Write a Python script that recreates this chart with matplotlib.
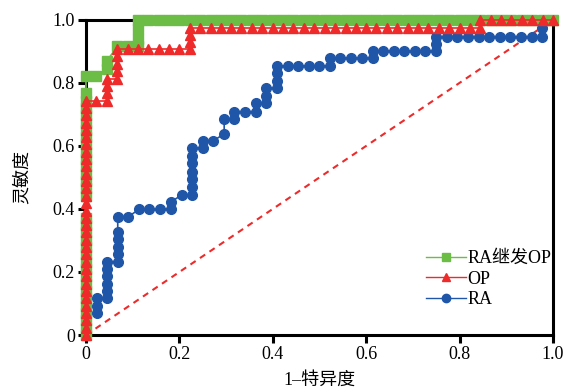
import matplotlib
matplotlib.use("Agg")
import matplotlib.pyplot as plt

plt.rcParams['font.family'] = ['Liberation Serif', 'Noto Sans CJK SC', 'DejaVu Sans']

# RA继发OP (green squares)
ra_op_x = ([0] * 33 +
           [0.022, 0.044, 0.044, 0.067, 0.089, 0.111, 0.111, 0.111, 0.111,
            0.133, 0.156, 0.178, 0.2, 0.222, 0.244, 0.267, 0.289, 0.311, 0.333,
            0.356, 0.378, 0.4, 0.422, 0.444, 0.467, 0.489, 0.511, 0.533, 0.556,
            0.578, 0.6, 0.622, 0.644, 0.667, 0.689, 0.711, 0.733, 0.756, 0.778,
            0.8, 0.822, 0.844, 0.867, 0.889, 0.911, 0.933, 0.956, 0.978, 1.0])
ra_op_y = ([0, 0.023, 0.047, 0.07, 0.093, 0.116, 0.14, 0.163, 0.186, 0.209,
            0.233, 0.256, 0.279, 0.302, 0.326, 0.349, 0.372,
            0.442, 0.465, 0.488, 0.512, 0.535, 0.558, 0.581, 0.605, 0.628,
            0.651, 0.674, 0.698, 0.721, 0.744, 0.767, 0.821,
            0.821, 0.845, 0.868, 0.916, 0.916, 0.916, 0.94, 0.97, 1.0] +
           [1.0] * 40)

# OP (red triangles)
op_x = [0] * 33 + [0.022, 0.044, 0.044, 0.044, 0.044,
                   0.067, 0.067, 0.067, 0.067, 0.067,
                   0.089, 0.111, 0.133, 0.156, 0.178, 0.2, 0.222,
                   0.222, 0.222, 0.222,
                   0.244, 0.267, 0.289, 0.311, 0.333, 0.356, 0.378, 0.4, 0.422,
                   0.444, 0.467, 0.489, 0.511, 0.533, 0.556, 0.578, 0.6, 0.622,
                   0.644, 0.667, 0.689, 0.711, 0.733, 0.756, 0.778, 0.8, 0.822, 0.844,
                   0.844, 0.867, 0.889, 0.911, 0.933, 0.956, 0.978, 1.0]
op_y = [0, 0.023, 0.047, 0.07, 0.093, 0.116, 0.14, 0.163, 0.186, 0.209,
        0.233, 0.256, 0.279, 0.302, 0.326, 0.349, 0.372, 0.395, 0.419, 0.442,
        0.465, 0.488, 0.512, 0.535, 0.558, 0.581, 0.605, 0.628, 0.651, 0.674,
        0.698, 0.721, 0.744,
        0.744, 0.744, 0.767, 0.791, 0.814,
        0.814, 0.837, 0.86, 0.884, 0.907,
        0.907, 0.907, 0.907, 0.907, 0.907, 0.907, 0.907,
        0.93, 0.953, 0.975,
        0.975, 0.975, 0.975, 0.975, 0.975, 0.975, 0.975, 0.975, 0.975,
        0.975, 0.975, 0.975, 0.975, 0.975, 0.975, 0.975, 0.975, 0.975,
        0.975, 0.975, 0.975, 0.975, 0.975, 0.975, 0.975, 0.975, 0.975, 0.975,
        1.0, 1.0, 1.0, 1.0, 1.0, 1.0, 1.0, 1.0]

# RA (blue circles)
ra_x = [0.023, 0.023, 0.023,
        0.046, 0.046, 0.046, 0.046, 0.046, 0.046,
        0.068, 0.068, 0.068, 0.068, 0.068, 0.068,
        0.091, 0.114, 0.136, 0.159, 0.182, 0.182, 0.205,
        0.227, 0.227, 0.227, 0.227, 0.227, 0.227, 0.227,
        0.25, 0.25, 0.273, 0.296, 0.296, 0.318, 0.318, 0.341, 0.364, 0.364,
        0.386, 0.386, 0.386, 0.409, 0.409, 0.409, 0.409,
        0.432, 0.455, 0.477, 0.5, 0.523, 0.523,
        0.545, 0.568, 0.591, 0.614, 0.614,
        0.636, 0.659, 0.682, 0.705, 0.727, 0.75, 0.75, 0.75,
        0.773, 0.795, 0.818, 0.841, 0.864, 0.886, 0.909, 0.932, 0.955, 0.977, 0.977]
ra_y = [0.069, 0.093, 0.116,
        0.116, 0.14, 0.163, 0.186, 0.209, 0.233,
        0.233, 0.256, 0.28, 0.305, 0.328, 0.376,
        0.376, 0.399, 0.399, 0.399, 0.399, 0.423, 0.444,
        0.444, 0.47, 0.495, 0.518, 0.545, 0.568, 0.593,
        0.593, 0.617, 0.617, 0.638, 0.686, 0.686, 0.709, 0.709, 0.709, 0.735,
        0.735, 0.759, 0.783, 0.783, 0.807, 0.83, 0.854,
        0.854, 0.854, 0.854, 0.854, 0.854, 0.878,
        0.878, 0.878, 0.878, 0.878, 0.9,
        0.9, 0.9, 0.9, 0.9, 0.9, 0.9, 0.924, 0.947,
        0.947, 0.947, 0.947, 0.947, 0.947, 0.947, 0.947, 0.947, 0.947, 0.947, 0.974]

ticks = [0, 0.2, 0.4, 0.6, 0.8, 1.0]
tick_labels = ['0', '0.2', '0.4', '0.6', '0.8', '1.0']

green = '#6cbd45'
red = '#ee2a2a'
blue = '#2056a8'

fig = plt.figure(figsize=(5.68, 3.9), dpi=100)
ax = fig.add_axes([0.1514, 0.141, 0.822, 0.808])

ax.plot([0, 1], [0, 1], color=red, lw=1.5, ls=(0, (3, 2.5)), zorder=2)
ax.plot(ra_op_x, ra_op_y, color=green, lw=1.2, marker='s', ms=7.5,
        mec=green, mfc=green, label='RA继发OP', zorder=3, clip_on=False)
ax.plot(op_x, op_y, color=red, lw=1.2, marker='^', ms=6.5,
        mec=red, mfc=red, label='OP', zorder=4, clip_on=False)
ax.plot(ra_x, ra_y, color=blue, lw=1.2, marker='o', ms=7,
        mec=blue, mfc=blue, label='RA', zorder=3, clip_on=False)

ax.set_xlim(0, 1)
ax.set_ylim(0, 1)
ax.set_xticks(ticks)
ax.set_xticklabels(tick_labels)
ax.set_yticks(ticks)
ax.set_yticklabels(tick_labels)
for s in ax.spines.values():
    s.set_linewidth(2.2)
ax.tick_params(direction='out', length=6, width=2.2, labelsize=13, pad=2)

ax.set_xlabel('1–特异度', fontsize=13, labelpad=6)
ax.set_ylabel('灵敏度', fontsize=13, labelpad=16)

leg = ax.legend(loc='lower right', bbox_to_anchor=(1.02, 0.05), frameon=False,
                fontsize=13, handlelength=2.2, handletextpad=0.1,
                labelspacing=0.2, borderaxespad=0.2)
for h in leg.legend_handles:
    h.set_markersize(6)
    h.set_linewidth(1.0)

fig.savefig('out.png', dpi=100)
